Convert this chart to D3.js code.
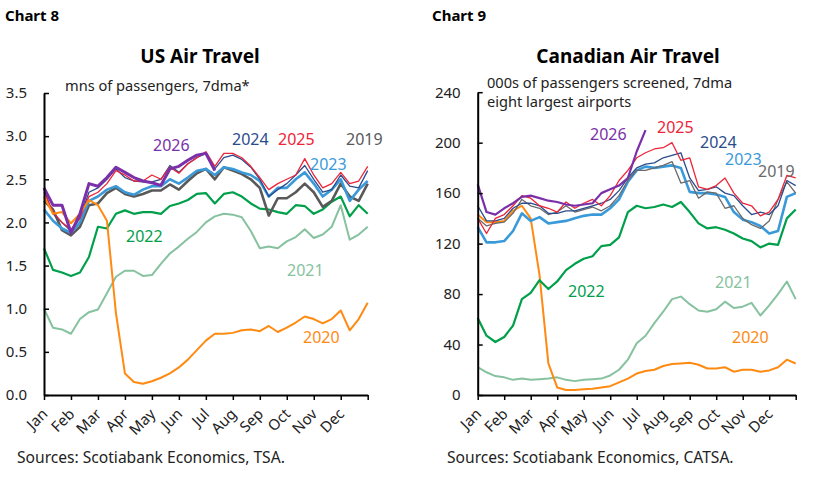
<!DOCTYPE html>
<html>
<head>
<meta charset="utf-8">
<script src="https://cdn.jsdelivr.net/npm/d3@7"></script>
<style>
  body { margin: 0; background: #fff; }
  text { font-family: "Noto Sans", "Open Sans", sans-serif; }
  .tick text { font-size: 15px; fill: #222; }
  .domain { stroke: #000; stroke-width: 2px; }
  .tick line { stroke: #000; stroke-width: 1.5px; }
</style>
</head>
<body>
<div id="charts"></div>
<script>
// month names for the x axis
var monthLabels = ["Jan", "Feb", "Mar", "Apr", "May", "Jun", "Jul", "Aug", "Sep", "Oct", "Nov", "Dec"];

// values read every third of a month (about 10 days), Jan 1 to Dec 31
// US: millions of passengers, 7dma
var us2019 = [2.25,2.15,1.91,1.85,1.95,2.2,2.22,2.34,2.4,2.33,2.3,2.33,2.37,2.37,2.44,2.38,2.48,2.57,2.62,2.5,2.64,2.6,2.56,2.5,2.4,2.08,2.28,2.28,2.35,2.45,2.35,2.18,2.25,2.45,2.3,2.25,2.45];
var us2020 = [2.3,2.1,2.12,1.99,2.1,2.26,2.2,2.02,0.95,0.25,0.15,0.13,0.16,0.2,0.25,0.32,0.41,0.52,0.63,0.71,0.71,0.72,0.75,0.76,0.74,0.8,0.73,0.78,0.84,0.91,0.88,0.83,0.88,0.98,0.75,0.88,1.07];
var us2021 = [1.0,0.78,0.76,0.71,0.88,0.96,0.99,1.18,1.37,1.44,1.44,1.38,1.39,1.52,1.64,1.72,1.81,1.89,2.0,2.07,2.1,2.09,2.06,1.9,1.7,1.72,1.7,1.78,1.83,1.92,1.82,1.86,1.95,2.2,1.8,1.86,1.95];
var us2022 = [1.7,1.45,1.42,1.38,1.42,1.6,1.95,1.93,2.1,2.14,2.1,2.12,2.12,2.1,2.19,2.22,2.26,2.33,2.34,2.22,2.33,2.35,2.3,2.22,2.16,2.15,2.12,2.1,2.2,2.19,2.1,2.15,2.24,2.3,2.07,2.2,2.1];
var us2023 = [2.15,2.02,1.93,1.88,2.0,2.25,2.3,2.38,2.42,2.35,2.32,2.38,2.42,2.42,2.5,2.45,2.52,2.6,2.62,2.55,2.64,2.62,2.58,2.55,2.48,2.3,2.4,2.4,2.5,2.58,2.45,2.3,2.38,2.5,2.25,2.38,2.48];
var us2024 = [2.38,2.1,2.0,1.9,2.05,2.35,2.4,2.5,2.62,2.52,2.48,2.47,2.47,2.5,2.66,2.58,2.68,2.75,2.8,2.62,2.75,2.78,2.73,2.64,2.5,2.3,2.38,2.45,2.55,2.66,2.5,2.35,2.38,2.55,2.42,2.4,2.6];
var us2025 = [2.35,2.12,2.0,1.92,2.05,2.3,2.35,2.45,2.6,2.55,2.48,2.48,2.55,2.5,2.64,2.57,2.68,2.75,2.82,2.65,2.8,2.8,2.75,2.65,2.52,2.38,2.45,2.5,2.55,2.74,2.55,2.4,2.45,2.58,2.45,2.48,2.65];
var us2026 = [2.4,2.2,2.2,1.88,2.1,2.45,2.42,2.52,2.64,2.58,2.52,2.48,2.46,2.43,2.62,2.65,2.72,2.78,2.8,2.6];

// Canada: 000s of passengers screened, 7dma
var ca2019 = [140,134,136,137,144,155,150,148,143,145,150,145,147,149,146,150,158,170,178,178,180,182,185,168,170,156,161,160,148,150,140,135,132,138,155,169,160];
var ca2020 = [143,137,137,138,146,150,140,95,25,6,4,4,4.5,5,6,7,10,13,17,19,20,23,24.5,25,25.5,24,21,21,22,18.5,20,20,18.5,19.5,22,28,25];
var ca2021 = [22,18,15,14,12,13,12,12.5,13,14,12,11,12,12.5,13,15.5,20,28,41,47,57,66,76,78,72,67,66,68,74,69,70,73,63,71,80,90,76];
var ca2022 = [61,47,42,46,55,76,81,91,84,90,99,104,108,110,118,119,125,145,150,148,149,151,149,153,145,136,132,133,131,128,124,122,117,120,119,140,147];
var ca2023 = [133,121,121,122,130,144,138,141,136,137,138,140,142,143,143,148,155,169,178,181,180,181,182,180,161,160,160,159,157,145,139,137,134,128,130,157,160];
var ca2024 = [150,138,138,140,148,152,152,150,144,144,146,146,148,150,152,155,162,172,180,183,184,188,190,192,172,162,163,165,160,158,150,143,145,143,150,170,166];
var ca2025 = [140,128,140,143,150,158,156,150,148,145,153,148,152,155,150,158,170,178,188,192,195,196,200,186,188,165,163,166,172,160,152,150,142,145,155,174,172];
var ca2026 = [167,145,143,148,152,157,158,156,154,153,151,150,151,152,160,163,166,172,193,210];

// y tick values
var usTicks = [0, 0.5, 1.0, 1.5, 2.0, 2.5, 3.0, 3.5];
var caTicks = [0, 40, 80, 120, 160, 200, 240];

var width = 828;
var height = 482;

var svg = d3
  .select("#charts")
  .append("svg")
  .attr("width", width)
  .attr("height", height);

// draw one panel
function drawPanel(opt) {
  var g = svg.append("g");

  var xScale = d3.scaleLinear().domain([0, 12]).range([opt.left, opt.right]);
  var yScale = d3.scaleLinear().domain([0, opt.yMax]).range([395, opt.top]);

  // header texts
  g.append("text")
    .attr("x", opt.chartX)
    .attr("y", 21)
    .attr("font-size", 15)
    .attr("font-weight", "bold")
    .text(opt.chartNo);

  g.append("text")
    .attr("x", opt.titleX)
    .attr("y", 63)
    .attr("text-anchor", "middle")
    .attr("font-size", 19)
    .attr("font-weight", "bold")
    .text(opt.title);

  opt.sub.forEach(function(s, i) {
    g.append("text")
      .attr("x", opt.subX)
      .attr("y", opt.subY + i * 19)
      .attr("font-size", 14.6)
      .attr("fill", "#222")
      .text(s);
  });

  // lines
  var line = d3.line()
    .x(function(d, i) { return xScale(i / 3); })
    .y(function(d) { return yScale(d); });

  opt.series.forEach(function(s) {
    g.append("path")
      .datum(s.values)
      .attr("fill", "none")
      .attr("stroke", s.color)
      .attr("stroke-width", s.w)
      .attr("stroke-linejoin", "round")
      .attr("d", line);
  });

  // series labels
  opt.series.forEach(function(s) {
    g.append("text")
      .attr("x", s.lx)
      .attr("y", s.ly)
      .attr("font-size", 16)
      .attr("fill", s.color)
      .text(s.name);
  });

  // axes
  var yAxis = d3.axisLeft(yScale)
    .tickValues(opt.yTicks)
    .tickFormat(opt.yFormat)
    .tickSizeInner(-5)
    .tickSizeOuter(0)
    .tickPadding(17);

  g.append("g")
    .attr("class", "yAxis")
    .attr("transform", "translate(" + opt.left + ",0)")
    .call(yAxis);

  var xAxis = d3.axisBottom(xScale)
    .tickValues(d3.range(13))
    .tickFormat(function(d) { return monthLabels[d] || ""; })
    .tickSizeInner(5)
    .tickSizeOuter(0);

  var xg = g.append("g")
    .attr("class", "xAxis")
    .attr("transform", "translate(0,395)")
    .call(xAxis);

  xg.selectAll(".tick text")
    .attr("text-anchor", "end")
    .attr("dy", "0")
    .attr("y", 0)
    .attr("transform", "translate(4,20) rotate(-45)");

  g.append("text")
    .attr("x", opt.srcX)
    .attr("y", 463)
    .attr("font-size", 15.6)
    .attr("fill", "#222")
    .text(opt.source);
}

drawPanel({
  left: 44, right: 367.7, top: 93, yMax: 3.5,
  yTicks: usTicks, yFormat: d3.format(".1f"),
  chartX: 5, chartNo: "Chart 8",
  titleX: 200, title: "US Air Travel",
  subX: 65, subY: 91, sub: ["mns of passengers, 7dma*"],
  srcX: 17, source: "Sources: Scotiabank Economics, TSA.",
  series: [
    { name: "2021", values: us2021, color: "#86c29f", w: 2, lx: 287, ly: 276 },
    { name: "2022", values: us2022, color: "#00a04b", w: 2.2, lx: 126, ly: 242 },
    { name: "2019", values: us2019, color: "#595959", w: 2.6, lx: 346, ly: 145 },
    { name: "2023", values: us2023, color: "#3a9ad9", w: 2.6, lx: 310, ly: 170 },
    { name: "2024", values: us2024, color: "#2b4c8c", w: 1.3, lx: 232, ly: 145 },
    { name: "2025", values: us2025, color: "#ee2438", w: 1.3, lx: 278, ly: 145 },
    { name: "2020", values: us2020, color: "#ff8a12", w: 2, lx: 303, ly: 343 },
    { name: "2026", values: us2026, color: "#7a30a8", w: 3, lx: 153, ly: 151 }
  ]
});

drawPanel({
  left: 477.7, right: 795.7, top: 92.2, yMax: 240,
  yTicks: caTicks, yFormat: d3.format("d"),
  chartX: 432, chartNo: "Chart 9",
  titleX: 628, title: "Canadian Air Travel",
  subX: 487, subY: 88, sub: ["000s of passengers screened, 7dma", "eight largest airports"],
  srcX: 447, source: "Sources: Scotiabank Economics, CATSA.",
  series: [
    { name: "2021", values: ca2021, color: "#86c29f", w: 2, lx: 715, ly: 288 },
    { name: "2020", values: ca2020, color: "#ff8a12", w: 2, lx: 732, ly: 343 },
    { name: "2022", values: ca2022, color: "#00a04b", w: 2.2, lx: 568, ly: 297 },
    { name: "2023", values: ca2023, color: "#3a9ad9", w: 2.6, lx: 725, ly: 165 },
    { name: "2019", values: ca2019, color: "#6a6a6a", w: 1.3, lx: 758, ly: 177 },
    { name: "2024", values: ca2024, color: "#2b4c8c", w: 1.3, lx: 700, ly: 148 },
    { name: "2025", values: ca2025, color: "#ee2438", w: 1.3, lx: 657, ly: 133 },
    { name: "2026", values: ca2026, color: "#7a30a8", w: 2.2, lx: 590, ly: 140 }
  ]
});
</script>
</body>
</html>
